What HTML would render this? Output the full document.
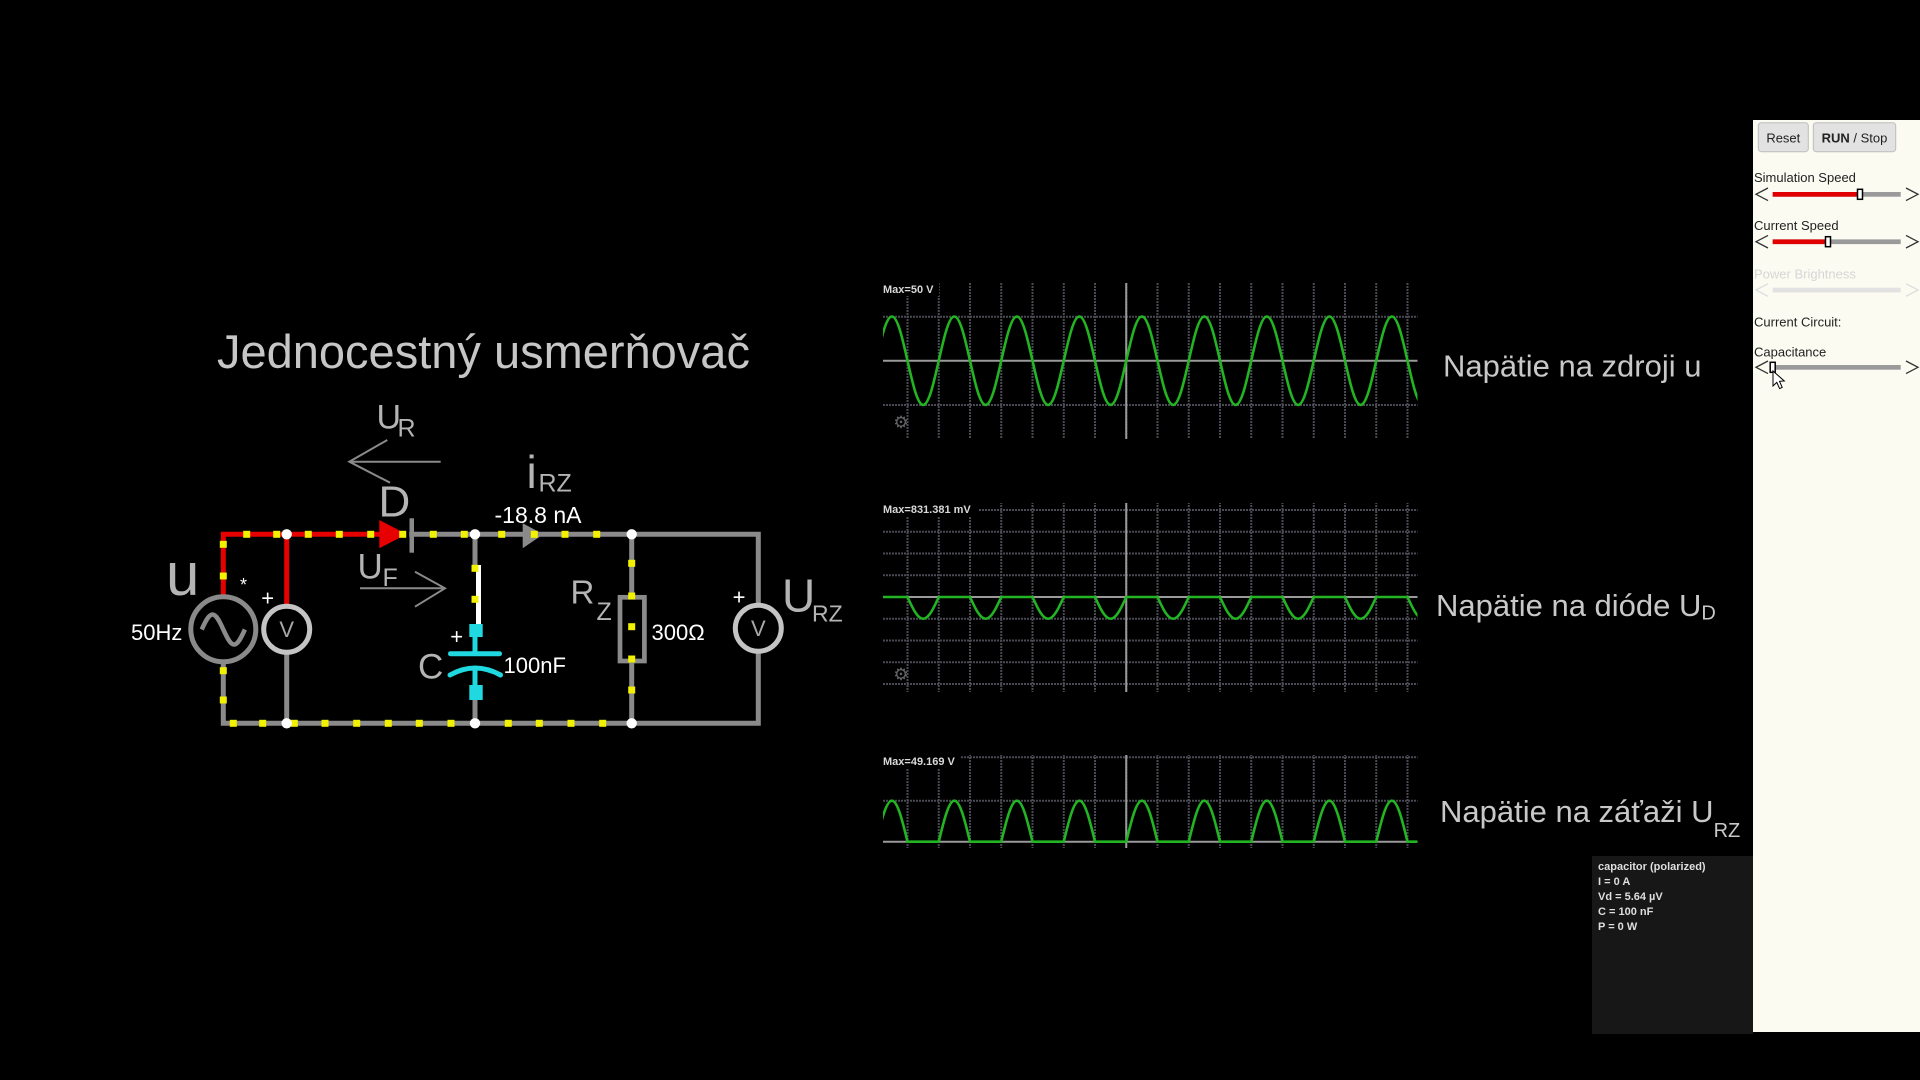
<!DOCTYPE html>
<html><head><meta charset="utf-8"><style>
html,body{margin:0;padding:0;background:#000;width:1920px;height:1080px;overflow:hidden}
svg{display:block}
</style></head><body>
<svg width="1920" height="1080" viewBox="0 0 1920 1080" xmlns="http://www.w3.org/2000/svg" font-family="'Liberation Sans', Arial, sans-serif">
<defs>
<clipPath id="sc"><rect x="883" y="0" width="534.5" height="1080"/></clipPath>
<pattern id="vg1" x="906.5" y="283" width="31.25" height="3" patternUnits="userSpaceOnUse"><rect width="2" height="2" fill="#4a4a55"/></pattern>
</defs>
<rect width="1920" height="1080" fill="#000"/>

<!-- Title -->
<text x="217" y="368" font-size="47" fill="#c6c6c6">Jednocestný usmerňovač</text>

<!-- ===== Circuit ===== -->
<g fill="none" stroke-linecap="square">
  <path d="M223.3,664 V723.3 H758.3 V653.6" stroke="#8a8a8a" stroke-width="5"/>
  <path d="M758.3,603 V534.3 H411.7" stroke="#8a8a8a" stroke-width="5"/>
  <path d="M286.7,654.6 V723.3" stroke="#8a8a8a" stroke-width="5"/>
  <path d="M475,534.3 V565 M475,700 V723.3" stroke="#8a8a8a" stroke-width="5"/>
  <path d="M631.7,534.3 V595 M631.7,663.3 V723.3" stroke="#8a8a8a" stroke-width="5"/>
  <path d="M223.3,594.3 V534.3 H381" stroke="#e60000" stroke-width="5"/>
  <path d="M286.7,534.3 V603.6" stroke="#e60000" stroke-width="5"/>
  <path d="M478.5,565 V625" stroke="#ffffff" stroke-width="5" stroke-linecap="butt"/>
</g>

<polygon points="379.3,520 406.7,534.3 379.3,548.3" fill="#e60000"/>
<rect x="409.5" y="518.3" width="4.5" height="34.4" fill="#8a8a8a"/>
<polygon points="522.7,523.3 543.3,534.3 522.7,548.3" fill="#8a8a8a"/>

<circle cx="223.3" cy="629.3" r="32.5" fill="#000" stroke="#8a8a8a" stroke-width="5"/>
<path d="M201.7,629.5 c3.53,-7.7 6.89,-15 10.8,-15 c3.91,0 7.27,7.3 10.8,15 c3.53,7.7 6.89,15 10.8,15 c3.91,0 7.27,-7.3 10.8,-15" fill="none" stroke="#8a8a8a" stroke-width="4.5"/>

<circle cx="286.7" cy="629.3" r="23" fill="#000" stroke="#c4c4c4" stroke-width="5"/>
<text x="286.7" y="637" font-size="22" fill="#a8a8a8" text-anchor="middle">V</text>
<circle cx="758.3" cy="628.3" r="23" fill="#000" stroke="#c4c4c4" stroke-width="5"/>
<text x="758.3" y="636" font-size="22" fill="#a8a8a8" text-anchor="middle">V</text>

<rect x="469.3" y="624" width="13.4" height="13" fill="#20d8e0"/>
<path d="M475,636 V653" stroke="#20d8e0" stroke-width="5"/>
<path d="M450.5,653.7 H499.5" stroke="#20d8e0" stroke-width="5" stroke-linecap="round"/>
<path d="M450,675 Q475,661 500.5,675" fill="none" stroke="#20d8e0" stroke-width="5" stroke-linecap="round"/>
<path d="M475,668 V686" stroke="#20d8e0" stroke-width="5"/>
<rect x="469.3" y="685" width="13.4" height="15" fill="#20d8e0"/>

<rect x="620" y="597.3" width="24.4" height="63.7" fill="#000" stroke="#8a8a8a" stroke-width="4.7"/>

<g fill="#f2f200">
  <rect x="243.2" y="530.8" width="7" height="7"/>
  <rect x="273.2" y="530.8" width="7" height="7"/>
  <rect x="304.8" y="530.8" width="7" height="7"/>
  <rect x="335.8" y="530.8" width="7" height="7"/>
  <rect x="367.2" y="530.8" width="7" height="7"/>
  <rect x="399.2" y="530.8" width="7" height="7"/>
  <rect x="429.8" y="530.8" width="7" height="7"/>
  <rect x="460.8" y="530.8" width="7" height="7"/>
  <rect x="498.2" y="530.8" width="7" height="7"/>
  <rect x="530.8" y="530.8" width="7" height="7"/>
  <rect x="561.5" y="530.8" width="7" height="7"/>
  <rect x="593.2" y="530.8" width="7" height="7"/>
  <rect x="219.8" y="540.8" width="7" height="7"/>
  <rect x="219.8" y="572.5" width="7" height="7"/>
  <rect x="219.8" y="667.2" width="7" height="7"/>
  <rect x="219.8" y="696.5" width="7" height="7"/>
  <rect x="229.8" y="719.8" width="7" height="7"/>
  <rect x="259.2" y="719.8" width="7" height="7"/>
  <rect x="290.8" y="719.8" width="7" height="7"/>
  <rect x="321.5" y="719.8" width="7" height="7"/>
  <rect x="353.2" y="719.8" width="7" height="7"/>
  <rect x="384.8" y="719.8" width="7" height="7"/>
  <rect x="415.8" y="719.8" width="7" height="7"/>
  <rect x="447.5" y="719.8" width="7" height="7"/>
  <rect x="504.8" y="719.8" width="7" height="7"/>
  <rect x="535.8" y="719.8" width="7" height="7"/>
  <rect x="567.5" y="719.8" width="7" height="7"/>
  <rect x="599.2" y="719.8" width="7" height="7"/>
  <rect x="471.5" y="564.8" width="7" height="7"/>
  <rect x="471.5" y="595.8" width="7" height="7"/>
  <rect x="628.2" y="559.8" width="7" height="7"/>
  <rect x="628.2" y="592.5" width="7" height="7"/>
  <rect x="628.2" y="623.2" width="7" height="7"/>
  <rect x="628.2" y="655.5" width="7" height="7"/>
  <rect x="628.2" y="686.5" width="7" height="7"/>
</g>

<g fill="#ffffff">
  <circle cx="286.7" cy="534.3" r="5.2"/>
  <circle cx="475" cy="534.3" r="5.2"/>
  <circle cx="631.7" cy="534.3" r="5.2"/>
  <circle cx="286.7" cy="723.3" r="5.2"/>
  <circle cx="475" cy="723.3" r="5.2"/>
  <circle cx="631.7" cy="723.3" r="5.2"/>
</g>

<g fill="none" stroke="#8a8a8a" stroke-width="2">
  <path d="M349.3,461.7 H440.7 M387.3,440 L349.3,461.7 L390,482.7"/>
  <path d="M360,588.3 H445 M415,571.7 L445,588.3 L415,606.7"/>
</g>

<g fill="#b4b4b4">
  <text x="376.5" y="428.3" font-size="34">U</text>
  <text x="397.5" y="436.7" font-size="25">R</text>
  <text x="378.5" y="516.7" font-size="44">D</text>
  <text x="526.5" y="488" font-size="46">i</text>
  <text x="538.5" y="491.7" font-size="25">RZ</text>
  <text x="357.5" y="578.3" font-size="35">U</text>
  <text x="382.5" y="586" font-size="25">F</text>
  <text x="166" y="595" font-size="60">u</text>
  <text x="418" y="678.3" font-size="35">C</text>
  <text x="570.5" y="603.3" font-size="33">R</text>
  <text x="596.5" y="620" font-size="25">Z</text>
  <text x="782" y="611.7" font-size="46">U</text>
  <text x="812" y="621.7" font-size="23">RZ</text>
</g>
<g fill="#ffffff">
  <text x="494.5" y="523" font-size="23">-18.8 nA</text>
  <text x="131" y="640" font-size="22">50Hz</text>
  <text x="240" y="591" font-size="18">*</text>
  <text x="267.7" y="605.5" font-size="22" text-anchor="middle">+</text>
  <text x="456.7" y="644" font-size="22" text-anchor="middle">+</text>
  <text x="739" y="604.6" font-size="22" text-anchor="middle">+</text>
  <text x="503.5" y="673" font-size="22">100nF</text>
  <text x="651.5" y="640" font-size="22">300Ω</text>
</g>

<!-- Scope 1 -->
<rect x="906.5" y="283" width="502" height="156" fill="url(#vg1)"/>
<g stroke="#4a4a55" stroke-width="2" stroke-dasharray="2 1">
  <path d="M883,316.7 H1417.5 M883,405 H1417.5"/>
</g>
<path d="M883,360.7 H1417.5 M1126.25,283 V439" stroke="#9a9a9a" stroke-width="2"/>
<g clip-path="url(#sc)">
<path fill="none" stroke="#22b422" stroke-width="2.6" d="M876.25,360.7
c5.1,-22.67 9.97,-44.2 15.625,-44.2 c5.655,0 10.525,21.53 15.625,44.2 c5.1,22.67 9.97,44.2 15.625,44.2 c5.655,0 10.525,-21.53 15.625,-44.2
c5.1,-22.67 9.97,-44.2 15.625,-44.2 c5.655,0 10.525,21.53 15.625,44.2 c5.1,22.67 9.97,44.2 15.625,44.2 c5.655,0 10.525,-21.53 15.625,-44.2
c5.1,-22.67 9.97,-44.2 15.625,-44.2 c5.655,0 10.525,21.53 15.625,44.2 c5.1,22.67 9.97,44.2 15.625,44.2 c5.655,0 10.525,-21.53 15.625,-44.2
c5.1,-22.67 9.97,-44.2 15.625,-44.2 c5.655,0 10.525,21.53 15.625,44.2 c5.1,22.67 9.97,44.2 15.625,44.2 c5.655,0 10.525,-21.53 15.625,-44.2
c5.1,-22.67 9.97,-44.2 15.625,-44.2 c5.655,0 10.525,21.53 15.625,44.2 c5.1,22.67 9.97,44.2 15.625,44.2 c5.655,0 10.525,-21.53 15.625,-44.2
c5.1,-22.67 9.97,-44.2 15.625,-44.2 c5.655,0 10.525,21.53 15.625,44.2 c5.1,22.67 9.97,44.2 15.625,44.2 c5.655,0 10.525,-21.53 15.625,-44.2
c5.1,-22.67 9.97,-44.2 15.625,-44.2 c5.655,0 10.525,21.53 15.625,44.2 c5.1,22.67 9.97,44.2 15.625,44.2 c5.655,0 10.525,-21.53 15.625,-44.2
c5.1,-22.67 9.97,-44.2 15.625,-44.2 c5.655,0 10.525,21.53 15.625,44.2 c5.1,22.67 9.97,44.2 15.625,44.2 c5.655,0 10.525,-21.53 15.625,-44.2
c5.1,-22.67 9.97,-44.2 15.625,-44.2 c5.655,0 10.525,21.53 15.625,44.2 c5.1,22.67 9.97,44.2 15.625,44.2 c5.655,0 10.525,-21.53 15.625,-44.2"/>
</g>
<rect x="881" y="283" width="58" height="13" fill="#000"/>
<text x="883" y="293" font-size="11" font-weight="bold" fill="#d8d8d8">Max=50 V</text>
<text x="901" y="428" font-size="17" fill="#666" text-anchor="middle" font-family="'DejaVu Sans', sans-serif">⚙</text>

<!-- Scope 2 -->
<rect x="906.5" y="503" width="502" height="189" fill="url(#vg1)"/>
<g stroke="#4a4a55" stroke-width="2" stroke-dasharray="2 1">
  <path d="M883,510 H1417.5 M883,531.75 H1417.5 M883,553.5 H1417.5 M883,575.25 H1417.5 M883,618.75 H1417.5 M883,640.5 H1417.5 M883,662.25 H1417.5 M883,684 H1417.5"/>
</g>
<path d="M883,597 H1417.5 M1126.25,503 V692" stroke="#9a9a9a" stroke-width="2"/>
<g clip-path="url(#sc)">
<path fill="none" stroke="#22b422" stroke-width="2.6" d="M876.25,597 h31.25
c5.1,11.15 9.97,21.75 15.625,21.75 c5.655,0 10.525,-10.6 15.625,-21.75 h31.25
c5.1,11.15 9.97,21.75 15.625,21.75 c5.655,0 10.525,-10.6 15.625,-21.75 h31.25
c5.1,11.15 9.97,21.75 15.625,21.75 c5.655,0 10.525,-10.6 15.625,-21.75 h31.25
c5.1,11.15 9.97,21.75 15.625,21.75 c5.655,0 10.525,-10.6 15.625,-21.75 h31.25
c5.1,11.15 9.97,21.75 15.625,21.75 c5.655,0 10.525,-10.6 15.625,-21.75 h31.25
c5.1,11.15 9.97,21.75 15.625,21.75 c5.655,0 10.525,-10.6 15.625,-21.75 h31.25
c5.1,11.15 9.97,21.75 15.625,21.75 c5.655,0 10.525,-10.6 15.625,-21.75 h31.25
c5.1,11.15 9.97,21.75 15.625,21.75 c5.655,0 10.525,-10.6 15.625,-21.75 h31.25
c5.1,11.15 9.97,21.75 15.625,21.75 c5.655,0 10.525,-10.6 15.625,-21.75 h31.25"/>
</g>
<rect x="881" y="503" width="98" height="13" fill="#000"/>
<text x="883" y="513" font-size="11" font-weight="bold" fill="#d8d8d8">Max=831.381 mV</text>
<text x="901" y="680" font-size="17" fill="#666" text-anchor="middle" font-family="'DejaVu Sans', sans-serif">⚙</text>

<!-- Scope 3 -->
<rect x="906.5" y="755" width="502" height="93" fill="url(#vg1)"/>
<g stroke="#4a4a55" stroke-width="2" stroke-dasharray="2 1">
  <path d="M883,757.3 H1417.5 M883,800.7 H1417.5"/>
</g>
<path d="M883,841.7 H1417.5 M1126.25,755 V848" stroke="#9a9a9a" stroke-width="2"/>
<g clip-path="url(#sc)">
<path fill="none" stroke="#22b422" stroke-width="2.6" d="M876.25,841.7
c5.1,-21.02 9.97,-41 15.625,-41 c5.655,0 10.525,19.98 15.625,41 h31.25
c5.1,-21.02 9.97,-41 15.625,-41 c5.655,0 10.525,19.98 15.625,41 h31.25
c5.1,-21.02 9.97,-41 15.625,-41 c5.655,0 10.525,19.98 15.625,41 h31.25
c5.1,-21.02 9.97,-41 15.625,-41 c5.655,0 10.525,19.98 15.625,41 h31.25
c5.1,-21.02 9.97,-41 15.625,-41 c5.655,0 10.525,19.98 15.625,41 h31.25
c5.1,-21.02 9.97,-41 15.625,-41 c5.655,0 10.525,19.98 15.625,41 h31.25
c5.1,-21.02 9.97,-41 15.625,-41 c5.655,0 10.525,19.98 15.625,41 h31.25
c5.1,-21.02 9.97,-41 15.625,-41 c5.655,0 10.525,19.98 15.625,41 h31.25
c5.1,-21.02 9.97,-41 15.625,-41 c5.655,0 10.525,19.98 15.625,41 h31.25"/>
</g>
<rect x="881" y="755" width="80" height="13" fill="#000"/>
<text x="883" y="765" font-size="11" font-weight="bold" fill="#d8d8d8">Max=49.169 V</text>

<!-- Scope captions -->
<g fill="#c8c8c8" font-size="31">
  <text x="1443" y="376.7">Napätie na zdroji u</text>
  <text x="1436" y="616">Napätie na dióde U<tspan font-size="20" dy="3.5">D</tspan></text>
  <text x="1440" y="822">Napätie na záťaži U<tspan font-size="20" dy="15">RZ</tspan></text>
</g>

<!-- Info box -->
<rect x="1592" y="856" width="161" height="178" fill="#171717"/>
<g font-size="11" font-weight="bold" fill="#dedede">
  <text x="1598" y="870">capacitor (polarized)</text>
  <text x="1598" y="885">I = 0 A</text>
  <text x="1598" y="900">Vd = 5.64 µV</text>
  <text x="1598" y="915">C = 100 nF</text>
  <text x="1598" y="930">P = 0 W</text>
</g>

<!-- Side panel -->
<rect x="1753" y="120" width="167" height="912" fill="#fbfbf2"/>
<rect x="1758.3" y="122.7" width="50" height="29" rx="3" fill="#e2e2e2" stroke="#bdbdbd" stroke-width="1"/>
<text x="1783.3" y="142.3" font-size="13" fill="#222" text-anchor="middle">Reset</text>
<rect x="1813.3" y="122.7" width="82.4" height="29" rx="3" fill="#e2e2e2" stroke="#bdbdbd" stroke-width="1"/>
<text x="1854.5" y="142.3" font-size="13" fill="#222" text-anchor="middle"><tspan font-weight="bold">RUN</tspan> / Stop</text>

<g font-size="13" fill="#222">
  <text x="1754" y="182">Simulation Speed</text>
  <text x="1754" y="230">Current Speed</text>
  <text x="1754" y="278.5" fill="#d6d6d6">Power Brightness</text>
  <text x="1754" y="326.7">Current Circuit:</text>
  <text x="1754" y="356.7">Capacitance</text>
</g>

<g fill="none" stroke="#333" stroke-width="1.3">
  <path d="M1768,188 L1756,194.3 L1768,200.6 M1906,188 L1918,194.3 L1906,200.6"/>
  <path d="M1768,235.4 L1756,241.7 L1768,248 M1906,235.4 L1918,241.7 L1906,248"/>
  <path d="M1768,361 L1756,367.3 L1768,373.6 M1906,361 L1918,367.3 L1906,373.6"/>
</g>
<path d="M1768,283.7 L1756,290 L1768,296.3 M1906,283.7 L1918,290 L1906,296.3" fill="none" stroke="#ddd" stroke-width="1.3"/>

<rect x="1772.7" y="192" width="128" height="4.7" fill="#9a9a9a"/>
<rect x="1772.7" y="192" width="86.6" height="4.7" fill="#e00000"/>
<rect x="1857.5" y="189.3" width="5" height="10" fill="#fff" stroke="#000" stroke-width="1.5"/>

<rect x="1772.7" y="239.4" width="128" height="4.7" fill="#9a9a9a"/>
<rect x="1772.7" y="239.4" width="55" height="4.7" fill="#e00000"/>
<rect x="1825.5" y="236.7" width="5" height="10" fill="#fff" stroke="#000" stroke-width="1.5"/>

<rect x="1772.7" y="287.7" width="128" height="4.7" fill="#e2e2e2"/>

<rect x="1772.7" y="365" width="128" height="4.7" fill="#9a9a9a"/>
<rect x="1770.2" y="362.3" width="5" height="10" fill="#fff" stroke="#000" stroke-width="1.5"/>

<polygon points="1773,371 1773,386 1776.8,382.4 1779.6,388.6 1782.2,387.4 1779.5,381.3 1784.3,381" fill="#fff" stroke="#000" stroke-width="1"/>
</svg>
</body></html>
